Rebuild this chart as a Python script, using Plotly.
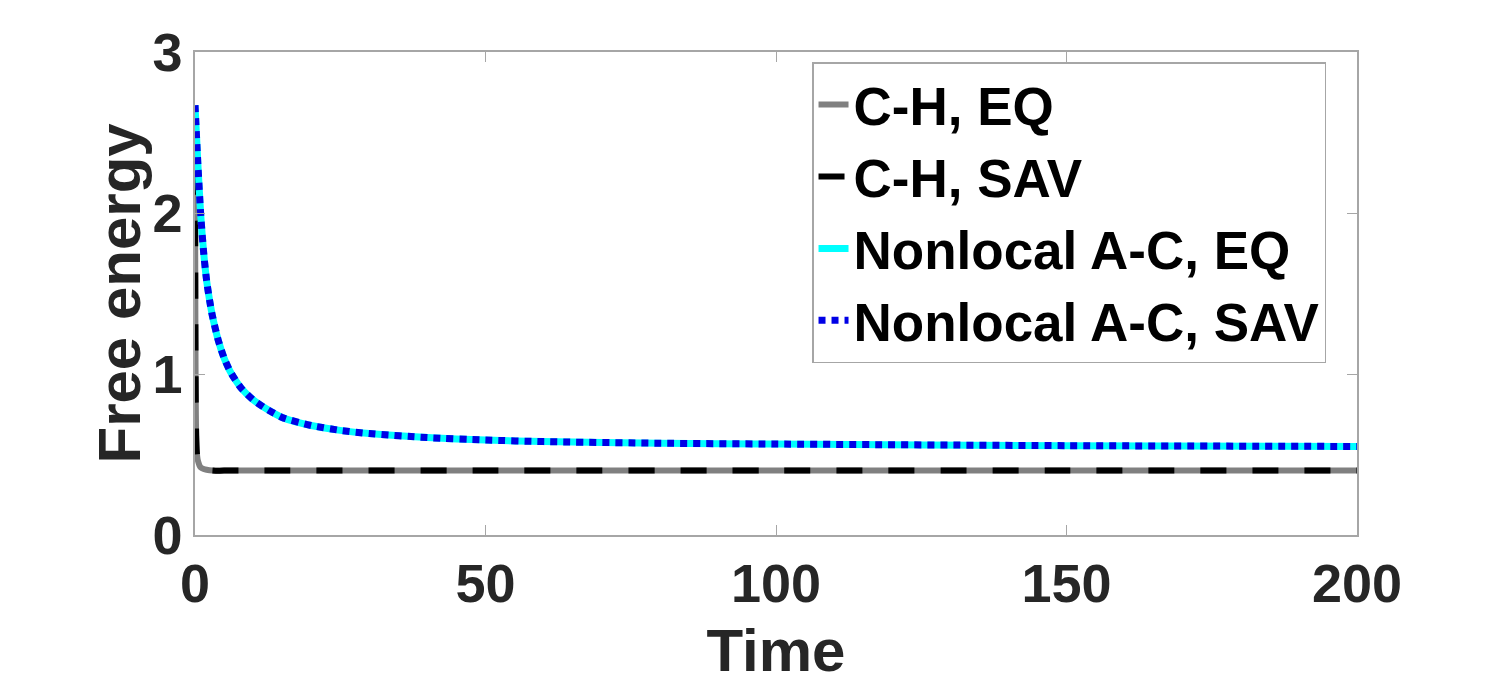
import plotly.graph_objects as go

# Cahn-Hilliard runs (EQ and SAV share the same energy curve)
ch_time = [0, 0.03, 0.06, 0.1, 0.15, 0.2, 0.3, 0.45, 0.6, 0.8, 1.0, 1.5, 2.0, 3.0, 5.0, 50, 100, 150, 200]
ch_energy = [2.60, 1.90, 1.40, 1.00, 0.75, 0.62, 0.52, 0.47, 0.45, 0.43, 0.42, 0.41, 0.405, 0.40, 0.40, 0.40, 0.40, 0.40, 0.40]

# Nonlocal Allen-Cahn runs
ac_time = [0, 0.5, 1, 1.5, 2, 2.5, 3, 4, 5, 6, 7, 8, 10, 12, 15, 20, 25, 30, 40, 50, 60, 80, 100, 150, 200]
ac_energy = [2.67, 2.30, 1.98, 1.75, 1.58, 1.46, 1.36, 1.21, 1.10, 1.02, 0.96, 0.91, 0.84, 0.79, 0.73,
             0.68, 0.65, 0.63, 0.605, 0.59, 0.58, 0.57, 0.565, 0.555, 0.55]

x_ticks = [0, 50, 100, 150, 200]
y_ticks = [0, 1, 2, 3]

FONT = "Liberation Sans"
TXT = "#262626"

fig = go.Figure()
fig.add_trace(go.Scatter(x=ch_time, y=ch_energy, mode="lines", name="C-H, EQ",
                         line=dict(color="#808080", width=6, shape="spline", smoothing=0.6)))
fig.add_trace(go.Scatter(x=ch_time, y=ch_energy, mode="lines", name="C-H, SAV",
                         line=dict(color="black", width=6, dash="26px,26px", shape="spline", smoothing=0.6)))
fig.add_trace(go.Scatter(x=ac_time, y=ac_energy, mode="lines", name="Nonlocal A-C, EQ",
                         line=dict(color="#00FFFF", width=7, shape="spline", smoothing=0.6)))
fig.add_trace(go.Scatter(x=ac_time, y=ac_energy, mode="lines", name="Nonlocal A-C, SAV",
                         line=dict(color="#0000E6", width=7, dash="7px,6px", shape="spline", smoothing=0.6)))

axis_common = dict(
    showline=True, linecolor="#A6A6A6", linewidth=1.5, mirror="ticks",
    ticks="inside", ticklen=10, tickcolor="#A6A6A6",
    showgrid=False, zeroline=False, automargin=False,
    tickfont=dict(family=FONT, size=54, color=TXT),
)

fig.update_xaxes(range=[0, 200], tickvals=x_ticks, ticktext=[f"<b>{v}</b>" for v in x_ticks], **axis_common,
                 title=dict(text="<b>Time</b>", font=dict(family=FONT, size=60, color=TXT), standoff=17))
fig.update_yaxes(range=[0, 3], tickvals=y_ticks, ticktext=[f"<b>{v}</b>" for v in y_ticks], **axis_common)

# y title placed as an annotation so it can sit close to the tick labels
fig.add_annotation(text="<b>Free energy</b>", xref="paper", yref="paper", x=-0.0654, y=0.5,
                   xanchor="center", yanchor="middle", textangle=-90, showarrow=False,
                   font=dict(family=FONT, size=60, color=TXT))

# page body adds an 8px offset, so margins are shifted by that amount
fig.update_layout(
    width=1500, height=691,
    plot_bgcolor="white", paper_bgcolor="white",
    margin=dict(l=187, r=151, t=44, b=164),
    legend=dict(x=0.531, y=0.979, xanchor="left", yanchor="top",
                bgcolor="white", bordercolor="#A6A6A6", borderwidth=1.5,
                font=dict(family=FONT, size=53, color="black"),
                itemwidth=30, tracegroupgap=0),
    showlegend=True,
)
fig.for_each_trace(lambda t: t.update(name=f"<b>{t.name}</b>"))

fig.write_html("out.html")
